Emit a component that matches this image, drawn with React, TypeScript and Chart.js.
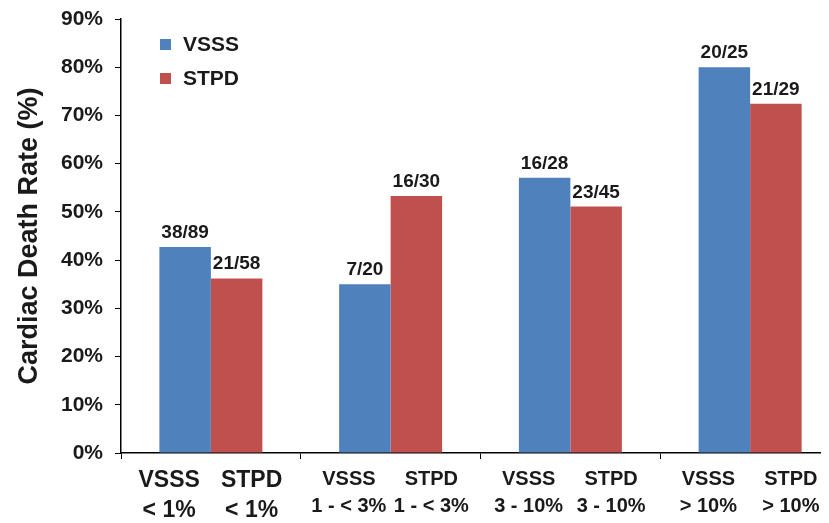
import React, { useEffect, useRef } from "react";
import { Chart, registerables } from "chart.js";

Chart.register(...registerables);

// ---- data ----
const categories = ["< 1%", "1 - < 3%", "3 - 10%", "> 10%"];
const seriesNames = ["VSSS", "STPD"];
const vsssRates = [42.7, 35.0, 57.1, 80.0];
const stpdRates = [36.2, 53.3, 51.1, 72.4];
const vsssCounts = ["38/89", "7/20", "16/28", "20/25"];
const stpdCounts = ["21/58", "16/30", "23/45", "21/29"];
const yAxisTitle = "Cardiac Death Rate (%)";

// ---- styles ----
const FONT = '"Liberation Sans", Arial, Helvetica, sans-serif';
const BLUE = "#4F81BD";
const RED = "#C0504D";
const TEXT = "#1a1a1a";

const countLabels = [vsssCounts, stpdCounts];

const overlayPlugin = {
  id: "overlay",
  afterDatasetsDraw(chart: any) {
    const ctx = chart.ctx;
    const area = chart.chartArea;
    ctx.save();
    ctx.fillStyle = TEXT;
    // value labels above bars
    ctx.font = `bold 19px ${FONT}`;
    ctx.textAlign = "center";
    ctx.textBaseline = "alphabetic";
    for (let i = 0; i < 2; i++) {
      const meta = chart.getDatasetMeta(i);
      meta.data.forEach((bar: any, j: number) => {
        ctx.fillText(countLabels[i][j], bar.x, bar.y - 9);
      });
    }
    // per-bar category labels under the axis
    for (let i = 0; i < 2; i++) {
      const meta = chart.getDatasetMeta(i);
      meta.data.forEach((bar: any, j: number) => {
        const big = j === 0;
        ctx.font = `bold ${big ? 23 : 20}px ${FONT}`;
        const dx = i === 0 ? -16 : 15;
        const y1 = area.bottom + (big ? 34 : 32);
        const y2 = area.bottom + (big ? 64 : 59);
        ctx.fillText(seriesNames[i], bar.x + dx, y1);
        ctx.fillText(categories[j], bar.x + dx, y2);
      });
    }
    // legend
    ctx.font = `bold 21px ${FONT}`;
    ctx.textAlign = "left";
    ctx.textBaseline = "middle";
    chart.data.datasets.forEach((ds: any, i: number) => {
      const sy = area.top + 20 + i * 34;
      ctx.fillStyle = ds.backgroundColor;
      ctx.fillRect(area.left + 39, sy, 11, 11);
      ctx.fillStyle = TEXT;
      ctx.fillText(ds.label, area.left + 62, sy + 6);
    });
    ctx.restore();
  },
};

export default function App() {
  const ref = useRef<HTMLCanvasElement>(null);
  useEffect(() => {
    if (!ref.current) return;
    const chart = new Chart(ref.current, {
      type: "bar",
      data: {
        labels: categories,
        datasets: [
          {
            label: seriesNames[0],
            data: vsssRates,
            backgroundColor: BLUE,
            categoryPercentage: 0.573,
            barPercentage: 1,
          },
          {
            label: seriesNames[1],
            data: stpdRates,
            backgroundColor: RED,
            categoryPercentage: 0.573,
            barPercentage: 1,
          },
        ],
      },
      options: {
        responsive: false,
        animation: false,
        layout: { padding: { top: 11, right: 8, left: 0, bottom: 0 } },
        plugins: {
          legend: { display: false },
          tooltip: { enabled: false },
        },
        scales: {
          x: {
            grid: {
              drawOnChartArea: false,
              offset: true,
              tickLength: 6,
              color: "#000",
            },
            border: { color: "#000", width: 1.5 },
            ticks: { display: false },
            afterFit: (scale: any) => {
              scale.height = 70;
              scale.paddingLeft = 0;
              scale.paddingRight = 0;
            },
          },
          y: {
            min: 0,
            max: 90,
            ticks: {
              stepSize: 10,
              padding: 12,
              color: TEXT,
              font: { family: FONT, size: 21, weight: "bold" },
              callback: (v: any) => `${v}%`,
            },
            grid: {
              drawOnChartArea: false,
              tickLength: 6,
              color: "#000",
            },
            border: { color: "#000", width: 1.5 },
            title: {
              display: true,
              text: yAxisTitle,
              color: TEXT,
              font: { family: FONT, size: 27, weight: "bold" },
              padding: { top: 5, bottom: 0 },
            },
            afterFit: (scale: any) => {
              scale.width = 113;
              scale.paddingTop = 0;
              scale.paddingBottom = 0;
            },
          },
        },
      },
      plugins: [overlayPlugin],
    });
    return () => chart.destroy();
  }, []);
  return (
    <div style={{ width: 821, height: 515, overflow: "hidden" }}>
      <canvas ref={ref} width={840} height={515} style={{ display: "block" }} />
    </div>
  );
}
